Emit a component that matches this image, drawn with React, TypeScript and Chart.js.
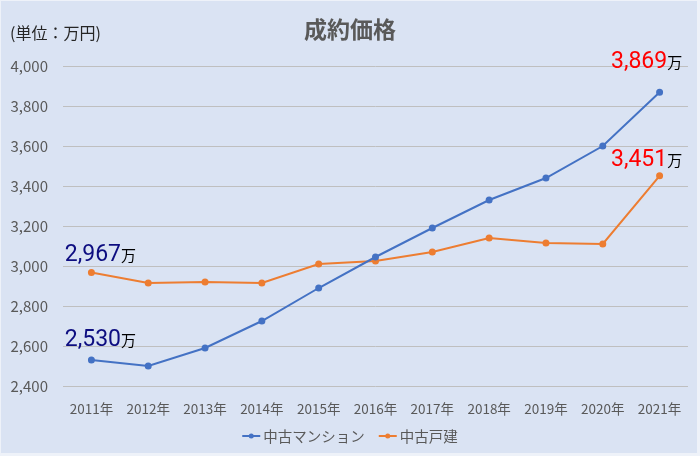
import React, { useEffect, useRef } from "react";
import { Chart, registerables } from "chart.js";

Chart.register(...registerables);

const categories = ["2011年", "2012年", "2013年", "2014年", "2015年", "2016年", "2017年", "2018年", "2019年", "2020年", "2021年"];
const mansion = [2530, 2500, 2590, 2725, 2890, 3045, 3190, 3330, 3440, 3600, 3869];
const detached = [2967, 2915, 2920, 2915, 3010, 3025, 3070, 3140, 3115, 3110, 3451];
const seriesNames = ["中古マンション", "中古戸建"];
const yTicks = [2400, 2600, 2800, 3000, 3200, 3400, 3600, 3800, 4000];
const titleText = "成約価格";
const unitText = "(単位：万円)";
const unitSuffix = "万";

const FONT = "'Noto Sans CJK JP', 'Noto Sans', sans-serif";
const NUMFONT = "Roboto, 'Noto Sans', sans-serif";
const BLUE = "#4472c4";
const ORANGE = "#ed7d31";

const labelSpecs = [
  { ds: 0, idx: 0, dx: 9, dy: -14, color: "#0d0d80" },
  { ds: 1, idx: 0, dx: 9, dy: -12, color: "#0d0d80" },
  { ds: 0, idx: 10, dx: -13, dy: -24, color: "#ff0000" },
  { ds: 1, idx: 10, dx: -13, dy: -10, color: "#ff0000" },
];

const decorPlugin = {
  id: "decor",
  beforeDraw(chart: any) {
    const ctx = chart.ctx;
    ctx.save();
    ctx.fillStyle = "#eef2f9";
    ctx.fillRect(0, 0, chart.width, chart.height);
    ctx.fillStyle = "#dae3f3";
    ctx.fillRect(1, 1, chart.width - 4, chart.height - 4);
    ctx.restore();
  },
  afterDraw(chart: any) {
    const ctx = chart.ctx;
    ctx.save();
    // title
    ctx.fillStyle = "#595959";
    ctx.font = `bold 23px ${FONT}`;
    ctx.textAlign = "center";
    ctx.textBaseline = "middle";
    ctx.fillText(titleText, 350, 29);
    // unit
    ctx.fillStyle = "#262626";
    ctx.font = `16px ${FONT}`;
    ctx.textAlign = "left";
    ctx.fillText(unitText, 10, 33);

    // data labels
    for (const s of labelSpecs) {
      const el = chart.getDatasetMeta(s.ds).data[s.idx];
      const data = chart.data.datasets[s.ds].data as number[];
      const num = data[s.idx].toLocaleString("en-US");
      ctx.font = `23px ${NUMFONT}`;
      const w1 = ctx.measureText(num).width;
      ctx.font = `15px ${FONT}`;
      const w2 = ctx.measureText(unitSuffix).width;
      const left = el.x + s.dx - (w1 + w2) / 2;
      const base = el.y + s.dy;
      ctx.textAlign = "left";
      ctx.textBaseline = "alphabetic";
      ctx.font = `23px ${NUMFONT}`;
      ctx.fillStyle = s.color;
      ctx.fillText(num, left, base);
      ctx.font = `15px ${FONT}`;
      ctx.fillStyle = "#000000";
      ctx.fillText(unitSuffix, left + w1, base);
    }

    // legend
    const colors = [BLUE, ORANGE];
    ctx.font = `14.5px ${FONT}`;
    const lineW = 18;
    const gap = 3;
    const itemGap = 14;
    const widths = seriesNames.map((n) => lineW + gap + ctx.measureText(n).width);
    const total = widths.reduce((a, b) => a + b, 0) + itemGap;
    let x = 350 - total / 2;
    const y = 436;
    seriesNames.forEach((n, i) => {
      ctx.strokeStyle = colors[i];
      ctx.lineWidth = 2;
      ctx.beginPath();
      ctx.moveTo(x, y);
      ctx.lineTo(x + lineW, y);
      ctx.stroke();
      ctx.fillStyle = colors[i];
      ctx.beginPath();
      ctx.arc(x + lineW / 2, y, 2.5, 0, Math.PI * 2);
      ctx.fill();
      ctx.fillStyle = "#595959";
      ctx.textBaseline = "middle";
      ctx.fillText(n, x + lineW + gap, y);
      x += widths[i] + itemGap;
    });
    ctx.restore();
  },
};

export default function App() {
  const ref = useRef<HTMLCanvasElement>(null);
  useEffect(() => {
    document.body.style.margin = "0";
    const chart = new Chart(ref.current!, {
      type: "line",
      data: {
        labels: categories,
        datasets: [
          {
            label: seriesNames[0],
            data: mansion,
            borderColor: BLUE,
            backgroundColor: BLUE,
            borderWidth: 2,
            pointRadius: 2.5,
            pointHoverRadius: 2.5,
            tension: 0,
          },
          {
            label: seriesNames[1],
            data: detached,
            borderColor: ORANGE,
            backgroundColor: ORANGE,
            borderWidth: 2,
            pointRadius: 2.5,
            pointHoverRadius: 2.5,
            tension: 0,
          },
        ],
      },
      options: {
        responsive: false,
        animation: false,
        layout: { padding: { top: 66, left: 5, right: 12, bottom: 30 } },
        plugins: {
          legend: { display: false },
          tooltip: { enabled: false },
          title: { display: false },
        },
        scales: {
          x: {
            offset: true,
            grid: { display: false },
            border: { display: false },
            ticks: { color: "#595959", font: { family: FONT, size: 13.5 }, padding: 7 },
            afterFit(scale: any) {
              scale.height = 40;
            },
          },
          y: {
            min: yTicks[0],
            max: yTicks[yTicks.length - 1],
            afterBuildTicks(scale: any) {
              scale.ticks = yTicks.map((v) => ({ value: v }));
            },
            grid: { color: "#bfbfbf", lineWidth: 1, drawTicks: false },
            border: { display: false },
            ticks: {
              color: "#595959",
              font: { family: FONT, size: 15 },
              padding: 15,
              callback: (v: any) => Number(v).toLocaleString("en-US"),
            },
            afterFit(scale: any) {
              scale.width = 58;
            },
          },
        },
      },
      plugins: [decorPlugin],
    });
    return () => chart.destroy();
  }, []);
  return (
    <div style={{ width: 700, height: 456 }}>
      <canvas ref={ref} width={700} height={456} />
    </div>
  );
}
